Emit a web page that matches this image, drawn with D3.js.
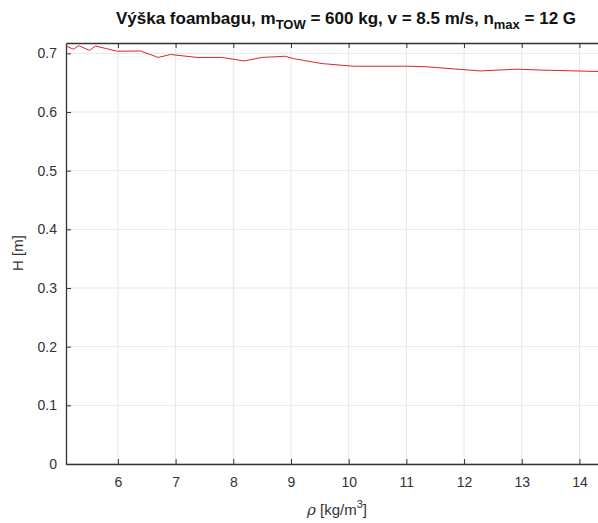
<!DOCTYPE html>
<html>
<head>
<meta charset="utf-8">
<script src="https://cdn.jsdelivr.net/npm/d3@7"></script>
<style>
  html, body { margin: 0; padding: 0; background: #fff; }
  svg { display: block; }
  text { font-family: "Liberation Sans", Arial, Helvetica, sans-serif; }
</style>
</head>
<body>
<svg id="chart" width="598" height="523"></svg>
<script>
// foam density [kg/m^3]
const rho = [5.10, 5.23, 5.32, 5.51, 5.61, 5.99, 6.39, 6.70, 6.91, 7.37, 7.80, 8.19, 8.50, 8.90, 9.04, 9.54, 10.08, 11.01, 11.36, 12.28, 12.92, 13.32, 14.33, 14.60];
// foambag height [m]
const H = [0.7125, 0.707, 0.713, 0.705, 0.7125, 0.7035, 0.704, 0.693, 0.698, 0.693, 0.693, 0.687, 0.693, 0.695, 0.691, 0.6825, 0.678, 0.678, 0.677, 0.670, 0.673, 0.6715, 0.669, 0.668];

const xTicks = [6, 7, 8, 9, 10, 11, 12, 13, 14];
const yTicks = [0, 0.1, 0.2, 0.3, 0.4, 0.5, 0.6, 0.7];

const svg = d3.select("#chart");
const plotL = 66, plotT = 43, plotB = 464, plotR = 625;

const x = d3.scaleLinear().domain([5.1, 14.79]).range([plotL, plotR]);
const y = d3.scaleLinear().domain([0, 0.7176]).range([plotB, plotT]);

const axisColor = "#333333";
const gridColor = "#e6e6e6";

// grid
svg.append("g").selectAll("line").data(xTicks).join("line")
  .attr("x1", d => x(d)).attr("x2", d => x(d))
  .attr("y1", plotT).attr("y2", plotB)
  .attr("stroke", gridColor).attr("stroke-width", 1);
svg.append("g").selectAll("line").data(yTicks).join("line")
  .attr("x1", plotL).attr("x2", plotR)
  .attr("y1", d => y(d)).attr("y2", d => y(d))
  .attr("stroke", gridColor).attr("stroke-width", 1);

// data line
svg.append("path")
  .datum(rho.map((r, i) => [r, H[i]]))
  .attr("fill", "none")
  .attr("stroke", "#d7262c")
  .attr("stroke-width", 1)
  .attr("d", d3.line().x(d => x(d[0])).y(d => y(d[1])));

// axes (ticks drawn inward)
const fmtY = d => d === 0 ? "0" : d3.format(".1f")(d);
const xAxis = svg.append("g").attr("transform", `translate(0,${plotB})`)
  .call(d3.axisBottom(x).tickValues(xTicks).tickSizeInner(-5).tickSizeOuter(0).tickPadding(13));
const xTop = svg.append("g").attr("transform", `translate(0,${plotT})`)
  .call(d3.axisTop(x).tickValues(xTicks).tickSizeInner(-5).tickSizeOuter(0).tickFormat(""));
const yAxis = svg.append("g").attr("transform", `translate(${plotL},0)`)
  .call(d3.axisLeft(y).tickValues(yTicks).tickSizeInner(-5).tickSizeOuter(0).tickPadding(9).tickFormat(fmtY));

[xAxis, xTop, yAxis].forEach(g => {
  g.select(".domain").attr("stroke", axisColor).attr("stroke-width", 1.3);
  g.selectAll(".tick line").attr("stroke", axisColor).attr("stroke-width", 1);
  g.selectAll(".tick text").attr("fill", axisColor).attr("font-size", 14)
    .style("font-family", "'Liberation Sans', Arial, sans-serif");
});

// axis labels
const xl = svg.append("text")
  .attr("x", 337).attr("y", 515)
  .attr("text-anchor", "middle").attr("font-size", 15).attr("fill", axisColor);
xl.append("tspan").attr("font-style", "italic").attr("font-family", "'DejaVu Serif', serif").text("ρ");
xl.append("tspan").text(" [kg/m");
xl.append("tspan").attr("dy", -7).attr("font-size", 11).text("3");
xl.append("tspan").attr("dy", 7).text("]");

svg.append("text")
  .attr("transform", "translate(23,253) rotate(-90)")
  .attr("text-anchor", "middle").attr("font-size", 15).attr("fill", axisColor)
  .text("H [m]");

// title
const t = svg.append("text")
  .attr("x", 346).attr("y", 24)
  .attr("text-anchor", "middle").attr("font-size", 17)
  .attr("font-weight", "bold").attr("fill", "#111");
t.append("tspan").text("Výška foambagu, m");
t.append("tspan").attr("dy", 5).attr("font-size", 13).text("TOW");
t.append("tspan").attr("dy", -5).text(" = 600 kg, v = 8.5 m/s, n");
t.append("tspan").attr("dy", 5).attr("font-size", 13).text("max");
t.append("tspan").attr("dy", -5).text(" = 12 G");
</script>
</body>
</html>
